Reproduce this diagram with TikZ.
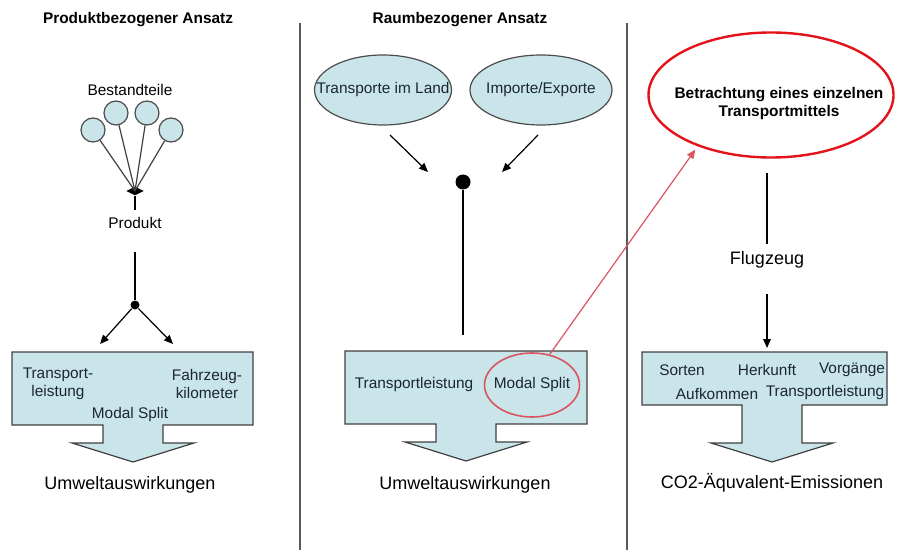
\documentclass[tikz,border=0pt]{standalone}
\usepackage{fontspec}
\setmainfont{Liberation Sans}
\usetikzlibrary{positioning,shapes.geometric,arrows.meta}

\definecolor{hellblau}{HTML}{C9E5E9}
\definecolor{signalrot}{HTML}{E3131B}
\definecolor{rosarot}{HTML}{D95560}
\definecolor{tinte}{HTML}{1C2633}

% box with block arrow below: xl, xr, ytop, ybottom, xcenter, yhead
\newcommand{\pfeilbox}[6]{%
  \draw[panel] (#1,#3) -- (#2,#3) -- (#2,#4) -- ({#5+30},#4) -- ({#5+30},#6)
    -- ({#5+61},#6) -- (#5,{#6+19}) -- ({#5-61},#6) -- ({#5-30},#6)
    -- ({#5-30},#4) -- (#1,#4) -- cycle;}

\begin{document}
\begin{tikzpicture}[x=0.5pt,y=-0.5pt,>={Triangle[length=4.5pt,width=3.8pt]},
    font=\fontsize{7.7}{9}\selectfont,line width=0.6pt,
    ball/.style={circle,draw=black!70,fill=hellblau,minimum size=12pt,inner sep=0pt},
    blob/.style={ellipse,draw=black!70,fill=hellblau,inner sep=0pt},
    panel/.style={draw=black!75,fill=hellblau},
    punkt/.style={circle,fill=black,inner sep=0pt},
    innen/.style={text=tinte},
    titel/.style={font=\bfseries\fontsize{7.7}{9}\selectfont},
    gross/.style={font=\fontsize{9}{11}\selectfont}]
  \useasboundingbox (0,0) rectangle (897,550);

  % dividers
  \draw[black!65,line width=0.8pt] (300,23) -- (300,550);
  \draw[black!65,line width=0.8pt] (627,23) -- (627,550);

  % ---- Produktbezogener Ansatz
  \node[titel] (t1) at (138,20) {Produktbezogener Ansatz};
  \node (bt) at (130,90) {Bestandteile};
  \node[ball] (b1) at (93,130) {};
  \node[ball] (b2) at (116,113) {};
  \node[ball] (b3) at (147,113) {};
  \node[ball] (b4) at (171,130) {};
  \node[diamond,fill=black,minimum width=9pt,minimum height=4.5pt,inner sep=0pt] (knot) at (135,191) {};
  \foreach \b in {b1,b2,b3,b4}
    \draw[black!75] (\b) -- (knot.center);
  \node (prod) at (135,223) {Produkt};
  \draw (knot) -- (prod.north);
  \node[punkt,minimum size=4.5pt] (d1) at (135,305) {};
  \draw[shorten <=8pt] (prod) -- (d1);
  \coordinate (a1) at (100,344);
  \coordinate (a2) at (173,344);
  \draw[->] (d1) -- (a1);
  \draw[->] (d1) -- (a2);
  \pfeilbox{12}{253}{352}{425}{133}{443}
  \node[innen,align=center] (tl) at (58,384) {Transport-\\leistung};
  \node[innen,align=center] (fk) at (207,384) {Fahrzeug-\\kilometer};
  \node[innen] (ms1) at (130,415) {Modal Split};
  \node[gross] (uw1) at (130,485) {Umweltauswirkungen};

  % ---- Raumbezogener Ansatz
  \node[titel] (t2) at (460,20) {Raumbezogener Ansatz};
  \node[blob,minimum width=68.5pt,minimum height=35pt] (land) at (383,90) {};
  \node[innen] at (land) {Transporte im Land};
  \node[blob,minimum width=71pt,minimum height=35pt] (imex) at (541,90) {};
  \node[innen] at (imex) {Importe/Exporte};
  \coordinate (p1) at (390,135);
  \coordinate (p2) at (428,172);
  \coordinate (p3) at (538,135);
  \coordinate (p4) at (502,172);
  \draw[->] (p1) -- (p2);
  \draw[->] (p3) -- (p4);
  \node[punkt,minimum size=7.5pt] (d2) at (463,182) {};
  \coordinate (m1) at (463,335);
  \draw (d2) -- (m1);
  \pfeilbox{345}{587}{351}{424}{466}{442}
  \node[innen] (tl2) at (414,385) {Transportleistung};
  \node[ellipse,draw=rosarot,line width=0.8pt,minimum width=47.5pt,minimum height=32pt] (ms2) at (532,385) {};
  \node[innen] at (ms2) {Modal Split};
  \node[gross] (uw2) at (465,485) {Umweltauswirkungen};

  % ---- Einzelnes Transportmittel
  \node[ellipse,draw=signalrot,line width=1.2pt,minimum width=122.5pt,minimum height=62.5pt] (betr) at (771,95) {};
  \node[titel,align=center] at (779,104) {Betrachtung eines einzelnen\\Transportmittels};
  \draw[->,rosarot,shorten >=2pt] (ms2.60) -- (betr.215);
  \coordinate (f0) at (767,173);
  \node[gross] (flug) at (767,260) {Flugzeug};
  \draw (f0) -- (flug.north);
  \coordinate (f2) at (767,348);
  \draw[->,shorten <=9pt] (flug) -- (f2);
  \pfeilbox{642}{887}{352}{405}{772}{443}
  \node[innen] (so) at (682,370) {Sorten};
  \node[innen] (hk) at (767,370) {Herkunft};
  \node[innen] (vg) at (852,370) {Vorgänge};
  \node[innen] (ak) at (717,394) {Aufkommen};
  \node[innen] (tl3) at (825,393) {Transportleistung};
  \node[gross] (co) at (772,483) {CO2-Äquvalent-Emissionen};
\end{tikzpicture}
\end{document}
